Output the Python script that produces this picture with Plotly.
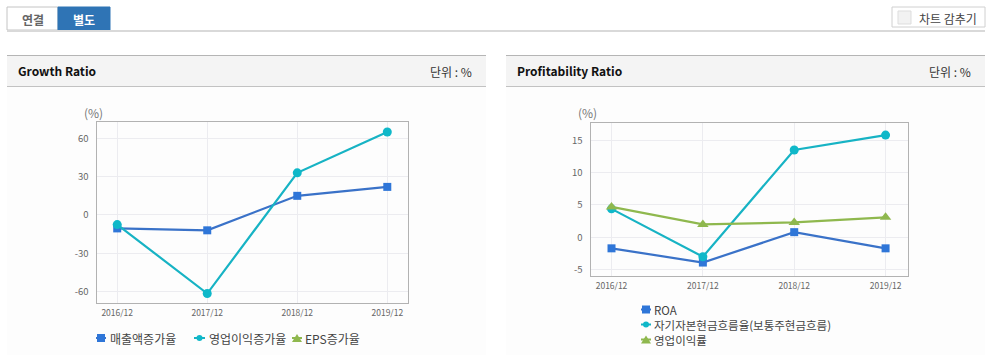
import plotly.graph_objects as go

W, H = 990, 355
FONT = "Noto Sans CJK KR"

periods = ["2016/12", "2017/12", "2018/12", "2019/12"]
sales_growth = [-10.5, -12, 15, 22]
op_growth = [-7.5, -61.5, 33, 65]
eps_growth = [None, None, None, None]
roa = [-1.7, -3.9, 0.8, -1.7]
cash_flow = [4.4, -3.0, 13.5, 15.8]
op_margin = [4.7, 2.0, 2.3, 3.1]
growth_ticks = [-60, -30, 0, 30, 60]
growth_labels = ["-60", "-30", "0", "30", "60"]
profit_ticks = [-5, 0, 5, 10, 15]
profit_labels = ["-5", "0", "5", "10", "15"]

BLUE, TEAL, GREEN = "#2f76d8", "#0fb8c9", "#8fb84e"
BLUE_L, TEAL_L = "#3a72c8", "#17b3c4"


def px(x):
    return x / W


def py(y):
    return 1 - y / H


def rect(x0, y0, x1, y1, fill="rgba(0,0,0,0)", line=None, width=1):
    return dict(type="rect", xref="paper", yref="paper", x0=px(x0), x1=px(x1), y0=py(y0), y1=py(y1),
                fillcolor=fill, line=dict(color=line or "rgba(0,0,0,0)", width=width if line else 0), layer="below")


def note(x, y, text, size=12, color="#333", anchor="left", bold=False):
    return dict(xref="paper", yref="paper", x=px(x), y=py(y), text=f"<b>{text}</b>" if bold else text, showarrow=False,
                xanchor=anchor, yanchor="middle", align="left", font=dict(family=FONT, size=size, color=color))


def series(name, y, color, lcolor, symbol, size, xa, ya):
    return go.Scatter(x=periods, y=y, name=name, mode="lines+markers", xaxis=xa, yaxis=ya,
                      line=dict(color=lcolor, width=2.2), marker=dict(color=color, symbol=symbol, size=size),
                      cliponaxis=False, showlegend=False)


def swatch(x0, x1, y, color, lcolor, kind):
    cx = (x0 + x1) / 2
    out = [dict(type="line", xref="paper", yref="paper", x0=px(x0), x1=px(x1), y0=py(y), y1=py(y),
                line=dict(color=lcolor, width=2))]
    if kind == "square":
        out.append(dict(type="rect", xref="paper", yref="paper", x0=px(cx - 4), x1=px(cx + 4), y0=py(y - 4), y1=py(y + 4),
                        fillcolor=color, line=dict(width=0)))
    elif kind == "circle":
        out.append(dict(type="circle", xref="paper", yref="paper", x0=px(cx - 3), x1=px(cx + 3), y0=py(y - 3), y1=py(y + 3),
                        fillcolor=color, line=dict(width=0)))
    else:
        out.append(dict(type="path", xref="paper", yref="paper",
                        path=f"M {px(cx - 5)} {py(y + 4)} L {px(cx + 5)} {py(y + 4)} L {px(cx)} {py(y - 4)} Z",
                        fillcolor=color, line=dict(width=0)))
    return out


fig = go.Figure()
fig.add_trace(series("매출액증가율", sales_growth, BLUE, BLUE_L, "square", 8, "x", "y"))
fig.add_trace(series("영업이익증가율", op_growth, TEAL, TEAL_L, "circle", 9, "x", "y"))
fig.add_trace(series("EPS증가율", eps_growth, GREEN, GREEN, "triangle-up", 10, "x", "y"))
fig.add_trace(series("ROA", roa, BLUE, BLUE_L, "square", 8, "x2", "y2"))
fig.add_trace(series("자기자본현금흐름율(보통주현금흐름)", cash_flow, TEAL, TEAL_L, "circle", 9, "x2", "y2"))
fig.add_trace(series("영업이익률", op_margin, GREEN, GREEN, "triangle-up", 10, "x2", "y2"))

axis_common = dict(showline=True, linecolor="#b2b2b2", linewidth=1, mirror=True, showgrid=True,
                   gridcolor="#ececf0", gridwidth=1, zeroline=False, ticks="")
xtickfont = dict(family=FONT, size=8.5, color="#666")
ytickfont = dict(family=FONT, size=9.5, color="#666")

shapes = [
    rect(7, 7, 58, 30, "#ffffff", "#c4c4c4"),
    rect(58, 7, 110, 30, "#2f74b5", "#2f74b5"),
    rect(7, 30, 985, 32, "#d9d9d9", None),
    rect(892, 7, 985, 27, "#ffffff", "#d0d0d0"),
    rect(898, 11, 911, 24, "#f2f2f2", "#dddddd"),
]
for x0, x1 in [(7, 486), (506, 985)]:
    shapes += [
        rect(x0, 87, x1, 355, "#fdfdfd", None),
        rect(x0, 56, x1, 86, "#f4f4f4", None),
        rect(x0, 55, x1, 56, "#b5b5b5", None),
        rect(x0, 86, x1, 87, "#c2c2c2", None),
    ]
shapes += swatch(96, 106, 338, BLUE, BLUE_L, "square")
shapes += swatch(194, 205, 338, TEAL, TEAL_L, "circle")
shapes += swatch(292, 302, 338, GREEN, GREEN, "triangle")
shapes += swatch(641, 651, 309.5, BLUE, BLUE_L, "square")
shapes += swatch(641, 651, 324.5, TEAL, TEAL_L, "circle")
shapes += swatch(641, 651, 339.5, GREEN, GREEN, "triangle")

annotations = [
    note(32.5, 19, "연결", 12, "#666", "center", True),
    note(84, 19, "별도", 12, "#ffffff", "center", True),
    note(917, 18, "차트 감추기", 12, "#444"),
    note(16, 71, "Growth Ratio", 12, "#111", bold=True),
    note(515, 71, "Profitability Ratio", 12, "#111", bold=True),
    note(474, 72, "단위 : %", 12, "#333", "right"),
    note(973, 72, "단위 : %", 12, "#333", "right"),
    note(93, 112, "(%)", 12, "#777", "center"),
    note(587, 112, "(%)", 12, "#777", "center"),
    note(108, 338, "매출액증가율", 12, "#444"),
    note(206.5, 338, "영업이익증가율", 12, "#444"),
    note(302.5, 338, "EPS증가율", 12, "#444"),
    note(651.5, 324.5, "ROA<br>자기자본현금흐름율(보통주현금흐름)<br>영업이익률", 11.5, "#444"),
]

fig.update_layout(
    width=W, height=H, margin=dict(l=0, r=0, t=0, b=0), paper_bgcolor="#ffffff", plot_bgcolor="#ffffff",
    showlegend=False, shapes=shapes, annotations=annotations,
    font=dict(family=FONT),
    xaxis=dict(axis_common, domain=[px(96.5), px(408)], range=[-0.23, 3.23], anchor="y", tickfont=xtickfont, ticklabelstandoff=2),
    yaxis=dict(axis_common, domain=[py(303), py(122)], range=[-68.9, 72.8], tickvals=growth_ticks, ticktext=growth_labels,
               anchor="x", tickfont=ytickfont, ticklabelstandoff=5),
    xaxis2=dict(axis_common, domain=[px(590.5), px(907.5)], range=[-0.23, 3.24], anchor="y2", tickfont=xtickfont, ticklabelstandoff=2),
    yaxis2=dict(axis_common, domain=[py(275.5), py(122.5)], range=[-5.9, 17.75], tickvals=profit_ticks, ticktext=profit_labels,
                anchor="x2", tickfont=ytickfont, ticklabelstandoff=5),
)

fig.write_html("out.html", config={"displayModeBar": False},
               post_script="document.body.style.margin='0';document.body.style.overflow='hidden';")
